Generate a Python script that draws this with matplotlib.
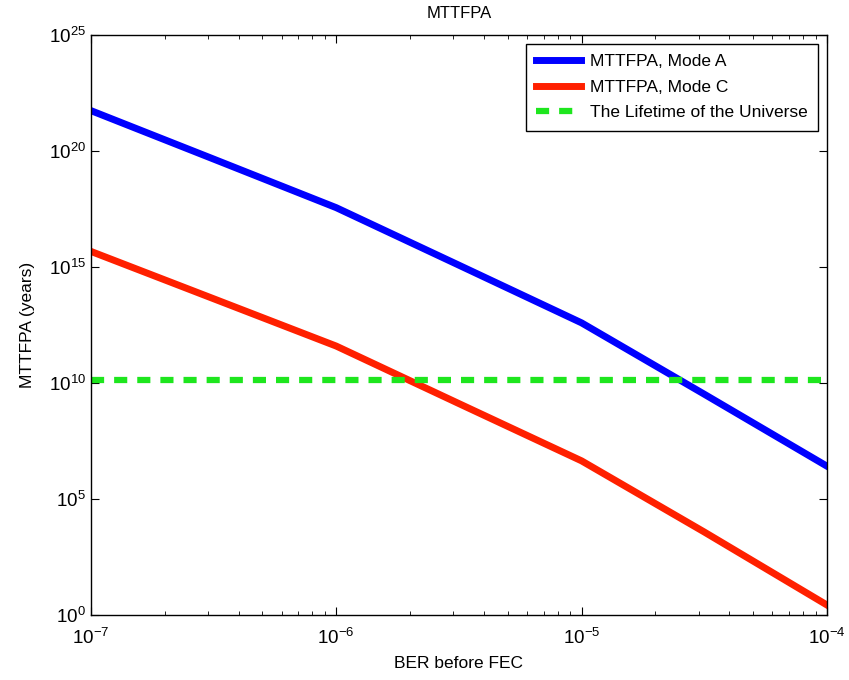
import matplotlib.pyplot as plt
from matplotlib.ticker import LogLocator, NullFormatter, NullLocator

plt.rcParams['font.family'] = ['Liberation Sans', 'DejaVu Sans']
plt.rcParams['mathtext.fontset'] = 'custom'
plt.rcParams['mathtext.rm'] = 'Liberation Sans'

# BER before FEC (x) and MTTFPA in years
ber = [1e-7, 3.16e-7, 1e-6, 3.16e-6, 1e-5, 3.16e-5, 1e-4]
mode_a = [5.5e21, 4.5e19, 3.6e17, 1.2e15, 3.9e12, 3.3e9, 2.6e6]
mode_c = [4.7e15, 4.3e13, 3.9e11, 1.3e9, 4.4e6, 3.8e3, 2.7]
universe = 1.37e10

fig = plt.figure(figsize=(8.49, 6.8), dpi=100)
ax = fig.add_axes([0.107, 0.0956, 0.867, 0.853])

ax.loglog(ber, mode_a, color='#0000ff', lw=5, label='MTTFPA, Mode A')
ax.loglog(ber, mode_c, color='#ff2000', lw=5, label='MTTFPA, Mode C')
ax.loglog([ber[0], ber[-1]], [universe, universe], color='#1ee61e', lw=4.5,
          dashes=(2.1, 1.6), label='The Lifetime of the Universe')

ax.set_xlim(1e-7, 1e-4)
ax.set_ylim(1e0, 1e25)
ax.xaxis.set_major_locator(LogLocator(base=10, numticks=10))
ax.xaxis.set_minor_locator(LogLocator(base=10, subs=range(2, 10), numticks=10))
ax.xaxis.set_minor_formatter(NullFormatter())
ax.set_yticks([1e0, 1e5, 1e10, 1e15, 1e20, 1e25])
ax.yaxis.set_minor_locator(NullLocator())

ax.tick_params(which='both', direction='in', top=True, right=True, labelsize=13.5)
ax.tick_params(which='major', length=6)
ax.tick_params(which='minor', length=3)
ax.tick_params(axis='x', pad=9)
for s in ax.spines.values():
    s.set_linewidth(1.0)

ax.set_title('MTTFPA', fontsize=12, pad=12)
ax.set_xlabel('BER before FEC', fontsize=12.5, labelpad=6)
ax.set_ylabel('MTTFPA (years)', fontsize=12.5, labelpad=10)

leg = ax.legend(loc='upper right', fontsize=12.5, fancybox=False, edgecolor='black',
                framealpha=1, handlelength=2.6, borderaxespad=0.5, borderpad=0.6,
                labelspacing=0.6, handletextpad=0.5)
leg.get_frame().set_linewidth(1.0)

fig.savefig('out.png', dpi=100)
